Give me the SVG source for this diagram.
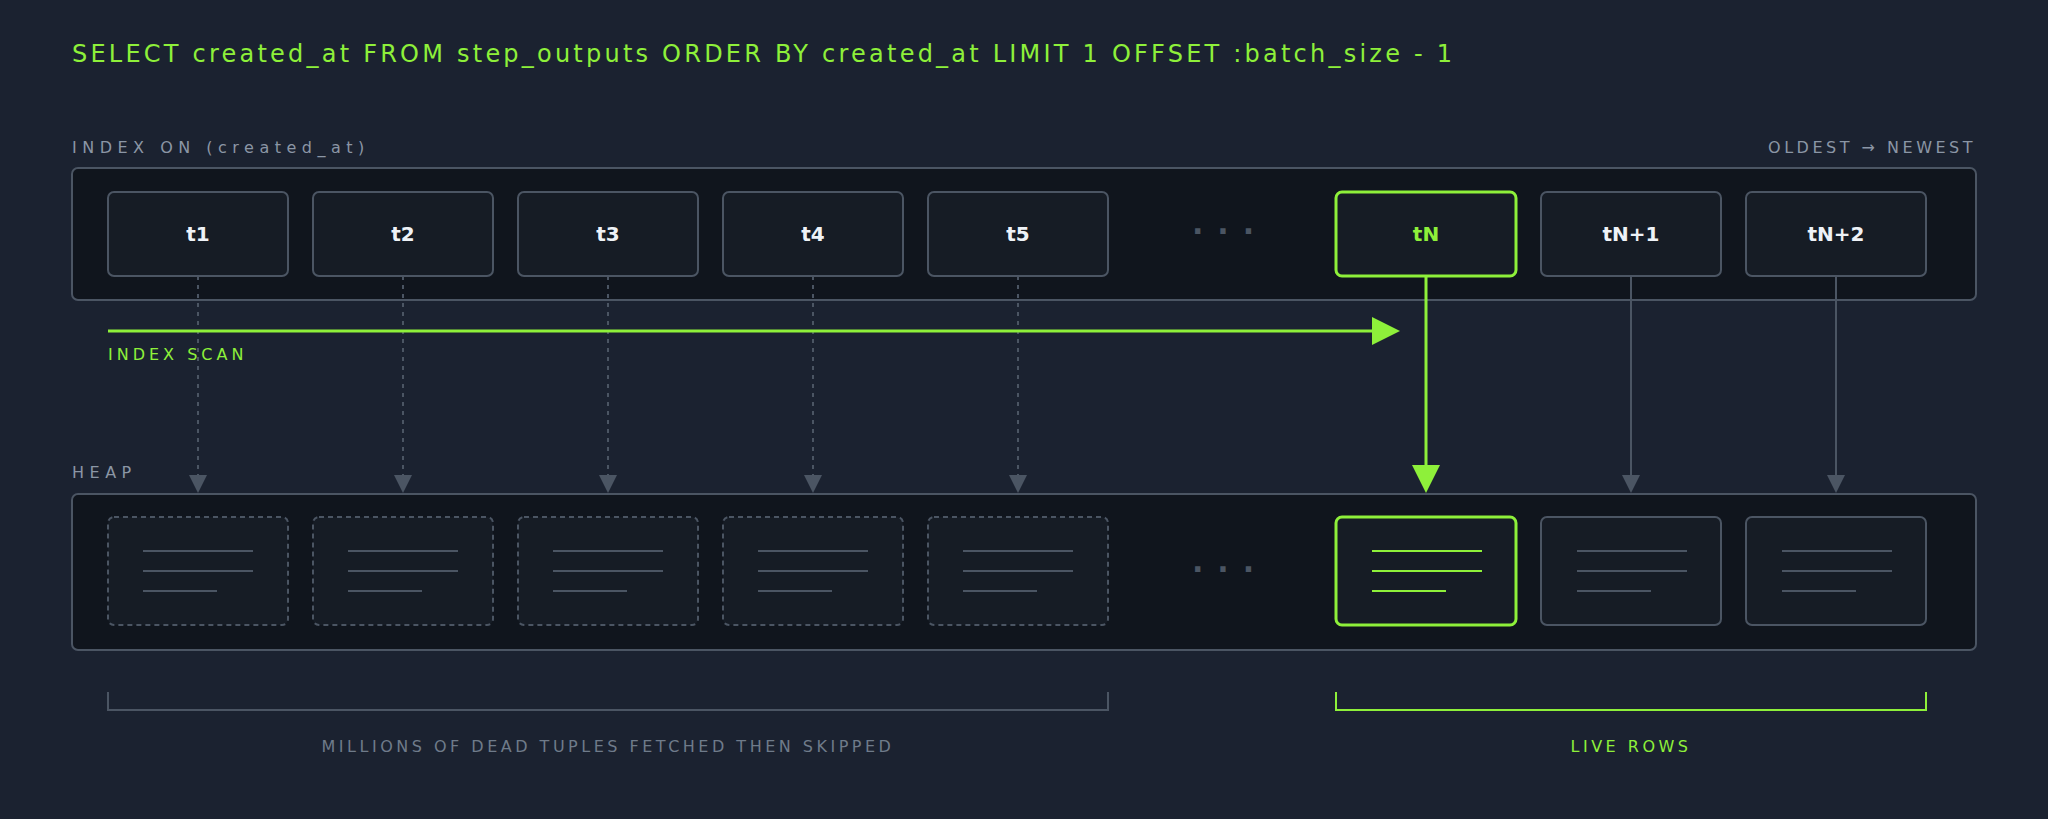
<svg xmlns="http://www.w3.org/2000/svg" width="2048" height="819" viewBox="0 0 2048 819">
<style>
text{font-family:"DejaVu Sans",sans-serif}
.lbl{font-size:16px;letter-spacing:5.5px;fill:#8b96a5}
.k{fill:#161c25;stroke:#4b5563;stroke-width:2}
.kt{font-size:20px;font-weight:bold;fill:#eef2f7;text-anchor:middle}
.dead{fill:#161c25;stroke:#4b5563;stroke-width:2;stroke-dasharray:5 4}
.ln{stroke:#4b5563;stroke-width:2}
.gl{stroke:#8ef03a;stroke-width:2}
.dots{font-size:30px;font-weight:bold;fill:#4b5563;text-anchor:middle;letter-spacing:14px}
</style>
<rect width="2048" height="819" fill="#1b2230"/>
<text x="72" y="62" font-size="24" fill="#8ef03a" textLength="1380">SELECT created_at FROM step_outputs ORDER BY created_at LIMIT 1 OFFSET :batch_size - 1</text>
<text x="72" y="153" class="lbl">INDEX ON (created_at)</text>
<text x="1976" y="153" class="lbl" text-anchor="end" style="letter-spacing:3.5px">OLDEST → NEWEST</text>
<rect x="72" y="168" width="1904" height="132" rx="6" fill="#10151d" stroke="#4b5563" stroke-width="2"/>
<text x="72" y="478" class="lbl">HEAP</text>
<rect x="72" y="494" width="1904" height="156" rx="6" fill="#10151d" stroke="#4b5563" stroke-width="2"/>
<g id="connectors">
<g stroke="#4b5563" stroke-width="2" stroke-dasharray="4 5">
<line x1="198" y1="276" x2="198" y2="478"/><line x1="403" y1="276" x2="403" y2="478"/><line x1="608" y1="276" x2="608" y2="478"/><line x1="813" y1="276" x2="813" y2="478"/><line x1="1018" y1="276" x2="1018" y2="478"/>
</g>
<g fill="#4b5563">
<path d="M189,475h18l-9,18z"/><path d="M394,475h18l-9,18z"/><path d="M599,475h18l-9,18z"/><path d="M804,475h18l-9,18z"/><path d="M1009,475h18l-9,18z"/>
<path d="M1622,475h18l-9,18z"/><path d="M1827,475h18l-9,18z"/>
</g>
<line x1="1631" y1="276" x2="1631" y2="477" class="ln"/>
<line x1="1836" y1="276" x2="1836" y2="477" class="ln"/>
<line x1="1426" y1="276" x2="1426" y2="468" stroke="#8ef03a" stroke-width="3"/>
<path d="M1412,465h28l-14,28z" fill="#8ef03a"/>
<line x1="108" y1="331" x2="1375" y2="331" stroke="#8ef03a" stroke-width="3"/>
<path d="M1372,317l28,14l-28,14z" fill="#8ef03a"/>
</g>
<text x="108" y="360" font-size="16" letter-spacing="4" fill="#8ef03a">INDEX SCAN</text>
<g id="t1"><rect x="108" y="192" width="180" height="84" rx="6" class="k"/><text x="198" y="241" class="kt">t1</text></g>
<g id="t2"><rect x="313" y="192" width="180" height="84" rx="6" class="k"/><text x="403" y="241" class="kt">t2</text></g>
<g id="t3"><rect x="518" y="192" width="180" height="84" rx="6" class="k"/><text x="608" y="241" class="kt">t3</text></g>
<g id="t4"><rect x="723" y="192" width="180" height="84" rx="6" class="k"/><text x="813" y="241" class="kt">t4</text></g>
<g id="t5"><rect x="928" y="192" width="180" height="84" rx="6" class="k"/><text x="1018" y="241" class="kt">t5</text></g>
<text x="1230" y="242" class="dots">···</text>
<g id="tN"><rect x="1336" y="192" width="180" height="84" rx="6" fill="#161c25" stroke="#8ef03a" stroke-width="3"/><text x="1426" y="241" class="kt" style="fill:#8ef03a">tN</text></g>
<g id="tN1"><rect x="1541" y="192" width="180" height="84" rx="6" class="k"/><text x="1631" y="241" class="kt">tN+1</text></g>
<g id="tN2"><rect x="1746" y="192" width="180" height="84" rx="6" class="k"/><text x="1836" y="241" class="kt">tN+2</text></g>
<g id="h1"><rect x="108" y="517" width="180" height="108" rx="6" class="dead"/><path d="M143,551h110M143,571h110M143,591h74" class="ln"/></g>
<g id="h2"><rect x="313" y="517" width="180" height="108" rx="6" class="dead"/><path d="M348,551h110M348,571h110M348,591h74" class="ln"/></g>
<g id="h3"><rect x="518" y="517" width="180" height="108" rx="6" class="dead"/><path d="M553,551h110M553,571h110M553,591h74" class="ln"/></g>
<g id="h4"><rect x="723" y="517" width="180" height="108" rx="6" class="dead"/><path d="M758,551h110M758,571h110M758,591h74" class="ln"/></g>
<g id="h5"><rect x="928" y="517" width="180" height="108" rx="6" class="dead"/><path d="M963,551h110M963,571h110M963,591h74" class="ln"/></g>
<text x="1230" y="580" class="dots">···</text>
<g id="hN"><rect x="1336" y="517" width="180" height="108" rx="6" fill="#161c25" stroke="#8ef03a" stroke-width="3"/><path d="M1372,551h110M1372,571h110M1372,591h74" class="gl"/></g>
<g id="hN1"><rect x="1541" y="517" width="180" height="108" rx="6" class="k"/><path d="M1577,551h110M1577,571h110M1577,591h74" class="ln"/></g>
<g id="hN2"><rect x="1746" y="517" width="180" height="108" rx="6" class="k"/><path d="M1782,551h110M1782,571h110M1782,591h74" class="ln"/></g>
<path d="M108,692v18h1000v-18" fill="none" stroke="#4b5563" stroke-width="2"/>
<text x="608" y="752" class="lbl" text-anchor="middle" style="fill:#6f7b8a;letter-spacing:3.5px">MILLIONS OF DEAD TUPLES FETCHED THEN SKIPPED</text>
<path d="M1336,692v18h590v-18" fill="none" stroke="#8ef03a" stroke-width="2"/>
<text x="1631" y="752" class="lbl" text-anchor="middle" style="fill:#8ef03a;letter-spacing:3.5px">LIVE ROWS</text>
</svg>
